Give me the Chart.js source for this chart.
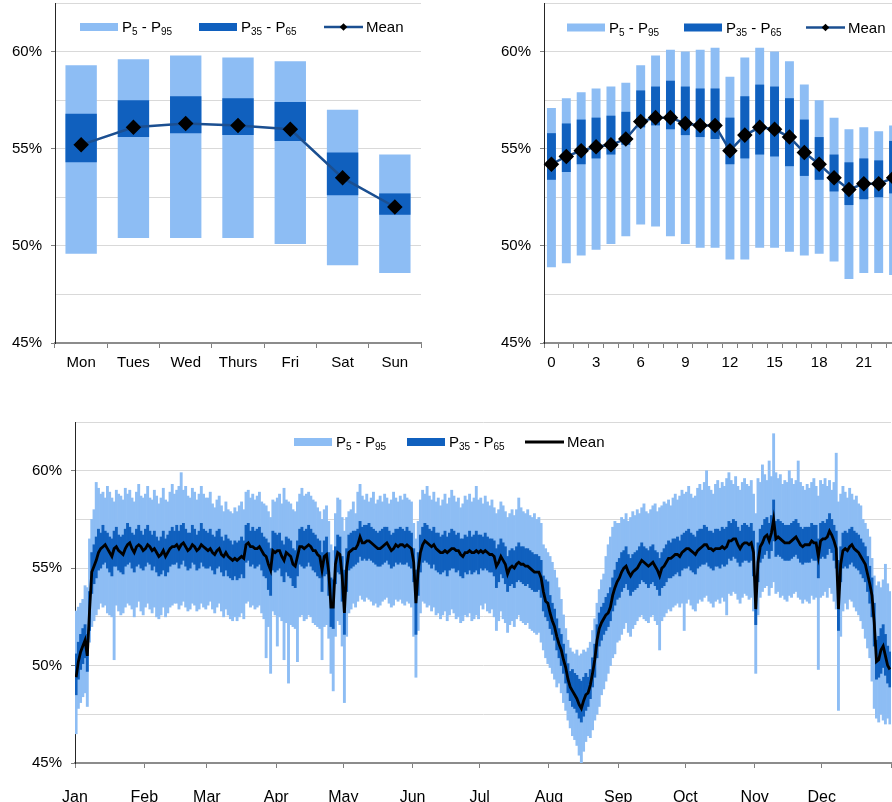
<!DOCTYPE html>
<html>
<head>
<meta charset="UTF-8">
<title>Percentile bands</title>
<script src="https://cdn.jsdelivr.net/npm/chart.js@4"></script>
<style>
  html, body { margin: 0; padding: 0; background: #fff; overflow: hidden; width: 892px; height: 802px; }
  canvas { position: absolute; }
  #weekChart { left: 0; top: -10px; }
  #hourChart { left: 460px; top: -10px; }
  #yearChart { left: 0; top: 400px; }
</style>
</head>
<body>
<canvas id="weekChart" width="440" height="390"></canvas>
<canvas id="hourChart" width="460" height="390"></canvas>
<canvas id="yearChart" width="910" height="420"></canvas>

<script>
// ---- day of week ----
const weekdays = ['Mon', 'Tues', 'Wed', 'Thurs', 'Fri', 'Sat', 'Sun'];
const dayP5   = [49.6, 50.4, 50.4, 50.4, 50.1, 49.0, 48.6];
const dayP35  = [54.3, 55.6, 55.8, 55.7, 55.4, 52.6, 51.6];
const dayP65  = [56.8, 57.5, 57.7, 57.6, 57.4, 54.8, 52.7];
const dayP95  = [59.3, 59.6, 59.8, 59.7, 59.5, 57.0, 54.7];
const dayMean = [55.2, 56.1, 56.3, 56.2, 56.0, 53.5, 52.0];

// ---- hour of day ----
const hours = ['0','1','2','3','4','5','6','7','8','9','10','11','12','13','14','15','16','17','18','19','20','21','22','23'];
const hourP5   = [48.9, 49.1, 49.5, 49.8, 50.1, 50.5, 51.1, 51.0, 50.5, 50.1, 49.9, 49.9, 49.3, 49.3, 49.9, 49.9, 49.7, 49.5, 49.6, 49.2, 48.3, 48.6, 48.6, 48.5];
const hourP35  = [53.4, 53.8, 54.2, 54.5, 54.7, 55.2, 56.1, 56.2, 56.0, 55.7, 55.6, 55.5, 54.2, 54.5, 54.7, 54.6, 54.1, 53.6, 53.4, 52.8, 52.1, 52.4, 52.5, 52.7];
const hourP65  = [55.8, 56.3, 56.5, 56.6, 56.7, 56.9, 58.0, 58.2, 58.5, 58.2, 58.1, 58.1, 56.6, 57.7, 58.3, 58.2, 57.6, 56.5, 55.6, 54.7, 54.3, 54.5, 54.4, 55.4];
const hourP95  = [57.1, 57.6, 57.9, 58.1, 58.2, 58.4, 59.3, 59.8, 60.1, 60.0, 60.1, 60.2, 58.7, 59.7, 60.2, 60.0, 59.5, 58.3, 57.5, 56.6, 56.0, 56.1, 55.9, 56.2];
const hourMean = [54.2, 54.6, 54.9, 55.1, 55.2, 55.5, 56.4, 56.6, 56.6, 56.3, 56.2, 56.2, 54.9, 55.7, 56.1, 56.0, 55.6, 54.8, 54.2, 53.5, 52.9, 53.2, 53.2, 53.5];

// ---- day of year (one value per day) ----
const monthLabels = ['Jan','Feb','Mar','Apr','May','Jun','Jul','Aug','Sep','Oct','Nov','Dec'];
const monthStarts = [0, 31, 59, 90, 120, 151, 181, 212, 243, 273, 304, 334, 365];

const yearMean = [
  49.4, 50.2, 50.7, 51.0, 51.3, 50.5, 52.8, 54.8, 55.1, 55.4, 55.8, 56.0, 56.1, 56.2, 56.0, 55.8, 55.6, 56.0, 56.1, 55.9, 55.8, 55.7, 56.0, 56.2, 56.3, 56.0, 55.8, 56.1, 56.2, 56.1, 55.9,
  56.0, 56.2, 56.1, 55.9, 56.0, 55.8, 55.6, 55.7, 55.9, 55.6, 55.8, 56.0, 56.1, 56.1, 56.2, 56.0, 56.2, 56.3, 56.1, 55.9, 56.0, 56.2, 56.1, 55.9, 56.0, 56.2, 56.1, 56.0,
  55.9, 56.0, 55.8, 55.7, 55.9, 56.0, 55.7, 55.6, 55.8, 55.6, 55.5, 55.4, 55.5, 55.4, 55.5, 55.6, 55.5, 56.2, 56.3, 56.1, 56.1, 56.0, 56.0, 56.1, 55.9, 55.7, 55.6, 55.2, 54.9, 55.9, 55.8,
  55.9, 55.9, 55.6, 55.4, 55.8, 55.7, 55.6, 55.2, 55.1, 55.6, 56.1, 56.1, 56.0, 56.1, 56.2, 56.1, 55.9, 55.9, 55.7, 55.6, 54.9, 55.6, 55.7, 54.8, 53.0, 53.0, 55.2, 55.8, 55.7, 54.6,
  52.7, 55.0, 55.8, 55.9, 56.0, 56.0, 56.2, 56.6, 56.3, 56.3, 56.4, 56.4, 56.3, 56.2, 56.1, 56.0, 56.0, 56.1, 56.2, 56.3, 56.1, 55.9, 56.0, 56.2, 56.1, 56.2, 56.2, 56.1, 56.2, 56.1, 56.0,
  55.3, 53.2, 54.9, 55.8, 56.2, 56.4, 56.3, 56.2, 56.1, 56.2, 56.0, 55.9, 55.8, 55.8, 55.9, 55.8, 55.9, 56.0, 56.0, 55.9, 55.9, 55.7, 55.6, 55.8, 55.8, 55.9, 55.8, 55.8, 55.9, 55.8,
  55.9, 55.8, 55.9, 55.8, 55.7, 55.7, 55.6, 55.1, 55.3, 55.6, 55.4, 55.2, 54.7, 55.0, 55.1, 55.0, 55.2, 55.3, 55.2, 55.2, 55.1, 55.1, 55.0, 54.9, 54.8, 54.8, 54.8, 54.5, 53.8, 53.3, 53.2,
  52.7, 52.3, 52.0, 51.5, 51.1, 50.8, 50.3, 49.9, 49.3, 48.9, 48.7, 48.5, 48.3, 48.0, 47.8, 48.2, 48.5, 48.6, 49.0, 49.6, 50.3, 51.3, 51.9, 52.2, 52.4, 52.6, 52.7, 53.0, 53.6, 54.0, 54.3,
  54.5, 54.8, 55.0, 55.1, 54.8, 54.6, 54.8, 54.9, 55.0, 55.2, 55.4, 55.3, 55.2, 55.1, 55.2, 55.3, 55.1, 54.9, 54.6, 55.0, 55.1, 55.3, 55.5, 55.5, 55.6, 55.7, 55.7, 55.6, 55.8, 55.9,
  56.0, 56.0, 55.9, 55.8, 55.7, 55.9, 56.0, 56.1, 56.2, 56.2, 56.0, 56.0, 55.9, 56.0, 56.0, 56.0, 56.1, 56.0, 56.1, 56.4, 56.4, 56.5, 56.5, 56.2, 56.0, 56.2, 56.3, 56.3, 56.2, 56.3, 55.8,
  52.9, 55.3, 56.1, 56.3, 56.6, 56.7, 56.4, 56.8, 57.5, 56.5, 56.6, 56.5, 56.4, 56.3, 56.3, 56.3, 56.4, 56.5, 56.6, 56.4, 56.2, 56.1, 56.2, 56.2, 56.2, 56.4, 56.3, 56.3, 55.6, 56.4,
  56.5, 56.5, 56.6, 56.9, 56.7, 56.4, 56.0, 52.9, 55.2, 55.9, 56.0, 55.9, 56.1, 56.2, 56.0, 55.9, 55.8, 55.6, 55.4, 55.2, 54.7, 54.2, 53.6, 52.2, 50.2, 50.3, 50.8, 51.0, 50.5, 50.0, 49.8
];

const yearP95 = [
  52.8, 53.0, 53.2, 53.4, 54.1, 54.0, 56.5, 57.5, 58.0, 59.4, 59.1, 58.8, 58.9, 58.6, 59.2, 58.9, 58.6, 58.4, 59.0, 58.8, 58.7, 58.5, 59.1, 58.8, 59.0, 58.6, 58.4, 58.9, 59.3, 58.7, 58.6,
  58.8, 59.2, 58.6, 58.5, 59.0, 58.7, 58.3, 58.6, 59.1, 58.5, 58.4, 58.9, 59.3, 58.8, 59.0, 59.2, 59.9, 59.0, 59.2, 58.7, 58.6, 59.1, 58.9, 58.5, 58.8, 59.2, 58.8, 58.6,
  58.6, 58.9, 58.3, 58.1, 58.5, 58.7, 58.2, 57.9, 58.4, 58.0, 57.9, 57.8, 58.1, 57.9, 58.2, 58.4, 58.0, 58.9, 59.0, 58.6, 58.8, 58.5, 58.7, 58.9, 58.4, 58.3, 58.2, 57.9, 57.6, 58.5, 58.4,
  58.6, 58.8, 58.3, 59.1, 58.5, 58.4, 58.3, 58.0, 57.9, 58.4, 58.8, 59.1, 58.7, 58.8, 58.9, 58.7, 58.5, 58.4, 58.1, 57.9, 57.5, 58.0, 58.2, 57.4, 56.2, 55.9, 57.8, 58.6, 58.5, 57.6,
  56.9, 57.6, 57.9, 58.0, 58.4, 57.8, 58.9, 59.3, 58.7, 58.5, 58.8, 58.4, 58.6, 58.9, 58.3, 58.5, 58.7, 58.4, 58.8, 58.6, 58.3, 58.5, 58.9, 58.6, 58.4, 58.7, 58.5, 58.8, 58.6, 58.5, 58.4,
  57.3, 56.5, 57.4, 58.5, 59.0, 58.8, 59.2, 58.7, 58.5, 58.9, 58.4, 58.6, 58.2, 58.5, 58.8, 58.3, 58.6, 59.0, 58.7, 58.4, 58.6, 58.1, 58.3, 58.7, 58.5, 58.8, 58.4, 58.6, 59.2, 58.5,
  58.6, 58.3, 58.7, 58.4, 58.2, 58.5, 58.1, 57.8, 58.0, 58.4, 58.2, 57.9, 57.6, 57.8, 58.0, 57.7, 58.0, 58.6, 58.1, 57.9, 57.8, 58.0, 57.7, 57.6, 57.8, 57.5, 57.6, 57.3, 56.2, 56.0, 55.8,
  55.6, 55.3, 54.9, 54.5, 54.0, 53.4, 52.6, 51.9, 51.3, 50.9, 50.7, 50.6, 50.8, 50.5, 50.6, 50.8, 50.7, 50.9, 51.2, 51.8, 52.4, 53.2, 53.9, 54.4, 54.7, 55.6, 56.2, 56.6, 57.1, 57.4, 57.3,
  57.3, 57.6, 57.5, 57.8, 57.4, 57.6, 57.9, 57.7, 58.0, 57.8, 58.1, 58.3, 57.9, 57.8, 58.0, 58.2, 58.3, 57.9, 58.1, 58.2, 58.4, 58.3, 58.5, 58.2, 58.6, 58.8, 58.5, 58.7, 59.0, 58.8,
  58.9, 59.2, 58.8, 58.6, 58.7, 59.1, 59.3, 59.0, 59.4, 60.0, 59.2, 59.0, 58.8, 59.3, 59.5, 59.1, 59.4, 59.2, 59.6, 59.9, 59.5, 59.3, 59.7, 59.2, 59.0, 59.4, 59.6, 59.3, 59.2, 59.5, 58.8,
  57.8, 59.6, 59.4, 60.3, 59.8, 59.5, 60.5, 59.7, 61.9, 59.9, 59.6, 59.8, 59.3, 59.5, 59.4, 60.0, 59.6, 59.3, 59.5, 60.5, 59.4, 59.2, 59.0, 59.3, 59.1, 59.4, 59.6, 59.2, 58.7, 59.5,
  59.3, 59.6, 59.2, 59.5, 59.0, 59.4, 60.9, 58.4, 58.8, 59.2, 58.9, 58.6, 59.1, 58.8, 58.5, 58.7, 58.3, 58.2, 57.5, 57.3, 57.0, 56.6, 55.5, 54.6, 54.1, 54.3, 54.0, 54.4, 55.2, 54.2, 53.8
];

const yearP65 = [
  50.6, 51.2, 51.6, 51.9, 52.1, 51.6, 53.8, 55.8, 56.2, 56.6, 57.0, 56.8, 57.2, 56.9, 56.8, 56.6, 56.5, 56.9, 57.1, 56.7, 56.6, 56.7, 57.0, 57.3, 57.1, 56.8, 56.7, 57.0, 57.2, 56.9, 56.7,
  57.0, 57.2, 56.9, 56.7, 56.9, 56.6, 56.4, 56.6, 56.9, 56.5, 56.7, 56.9, 57.1, 56.9, 57.2, 56.9, 57.2, 57.3, 57.0, 56.8, 56.8, 57.2, 57.0, 56.7, 56.9, 57.3, 57.0, 56.9,
  56.8, 57.0, 56.7, 56.6, 56.9, 57.0, 56.6, 56.4, 56.7, 56.5, 56.4, 56.2, 56.4, 56.3, 56.4, 56.6, 56.4, 57.2, 57.3, 56.9, 57.1, 56.9, 57.0, 57.1, 56.8, 56.6, 56.5, 56.3, 56.0, 56.9, 56.8,
  56.7, 56.8, 56.4, 56.2, 56.6, 56.5, 56.4, 56.0, 55.9, 56.4, 57.0, 57.1, 56.9, 57.0, 57.2, 57.0, 56.8, 56.7, 56.5, 56.4, 55.8, 56.4, 56.6, 55.8, 54.5, 54.4, 56.1, 56.7, 56.6, 55.6,
  54.9, 56.0, 56.7, 56.8, 56.9, 56.9, 57.0, 57.4, 57.1, 57.2, 57.2, 57.3, 57.1, 57.0, 56.9, 56.8, 56.9, 57.0, 57.1, 57.1, 56.9, 56.7, 56.8, 57.0, 57.0, 57.1, 57.0, 56.9, 57.1, 56.9, 56.8,
  56.0, 54.9, 55.8, 56.7, 57.1, 57.3, 57.2, 57.0, 56.9, 57.1, 56.8, 56.8, 56.6, 56.7, 56.9, 56.6, 56.8, 57.0, 56.9, 56.7, 56.8, 56.5, 56.5, 56.7, 56.6, 56.9, 56.6, 56.7, 56.9, 56.7,
  56.7, 56.6, 56.8, 56.6, 56.5, 56.5, 56.4, 56.0, 56.2, 56.5, 56.3, 56.1, 55.6, 55.9, 56.0, 55.9, 56.1, 56.3, 56.1, 56.1, 56.0, 56.0, 55.9, 55.8, 55.7, 55.7, 55.6, 55.4, 54.6, 54.4, 54.3,
  53.6, 53.2, 52.9, 52.4, 51.9, 51.6, 51.1, 50.6, 50.1, 49.7, 49.8, 49.6, 49.5, 49.3, 49.2, 49.4, 49.6, 49.4, 49.8, 50.4, 51.1, 52.1, 52.7, 53.0, 53.2, 53.5, 53.7, 54.0, 54.5, 54.9, 55.3,
  55.5, 55.8, 55.9, 56.1, 55.7, 55.5, 55.7, 55.8, 55.9, 56.1, 56.3, 56.1, 56.0, 55.9, 56.1, 56.2, 55.9, 55.8, 55.5, 55.8, 56.0, 56.2, 56.4, 56.3, 56.5, 56.5, 56.6, 56.4, 56.7, 56.8,
  56.9, 57.0, 56.8, 56.7, 56.6, 56.9, 57.0, 57.0, 57.2, 57.1, 56.9, 56.9, 56.8, 57.0, 57.0, 56.9, 57.1, 57.0, 57.1, 57.4, 57.3, 57.5, 57.4, 57.1, 56.9, 57.2, 57.3, 57.2, 57.1, 57.3, 56.9,
  54.6, 56.3, 57.0, 57.2, 57.5, 57.6, 57.3, 57.7, 58.5, 57.4, 57.5, 57.4, 57.3, 57.2, 57.2, 57.2, 57.3, 57.4, 57.5, 57.3, 57.1, 57.0, 57.1, 57.1, 57.1, 57.3, 57.2, 57.2, 56.5, 57.3,
  57.4, 57.3, 57.5, 57.8, 57.5, 57.2, 56.9, 55.4, 56.1, 56.8, 56.9, 56.8, 57.0, 57.1, 56.9, 56.8, 56.7, 56.5, 56.3, 56.1, 55.6, 55.1, 54.5, 53.2, 51.3, 51.5, 51.9, 52.1, 51.6, 51.0, 50.7
];

const yearP35 = [
  48.5, 49.3, 49.8, 50.1, 50.4, 49.7, 51.8, 53.7, 54.2, 54.5, 54.9, 55.0, 55.2, 55.3, 55.0, 54.8, 54.6, 55.1, 55.1, 54.9, 54.8, 54.7, 55.1, 55.2, 55.3, 55.0, 54.8, 55.1, 55.2, 55.0, 54.9,
  55.1, 55.3, 55.2, 54.9, 55.1, 54.8, 54.6, 54.7, 54.9, 54.6, 54.8, 55.1, 55.2, 55.2, 55.3, 55.0, 55.2, 55.4, 55.1, 54.9, 55.0, 55.3, 55.2, 54.9, 55.0, 55.3, 55.1, 55.0,
  55.0, 55.1, 54.9, 54.7, 55.0, 55.1, 54.8, 54.6, 54.9, 54.6, 54.5, 54.4, 54.6, 54.4, 54.5, 54.7, 54.5, 55.3, 55.4, 55.1, 55.2, 55.0, 55.1, 55.2, 54.9, 54.6, 54.5, 53.9, 53.6, 54.9, 54.8,
  54.9, 55.0, 54.6, 54.3, 54.8, 54.6, 54.5, 54.1, 54.0, 54.6, 55.2, 55.1, 55.0, 55.1, 55.3, 55.1, 54.9, 54.8, 54.6, 54.5, 53.8, 54.6, 54.7, 53.6, 52.0, 51.9, 54.2, 54.8, 54.7, 53.3,
  51.6, 53.8, 54.9, 55.0, 55.1, 55.2, 55.3, 55.6, 55.4, 55.5, 55.4, 55.5, 55.4, 55.3, 55.2, 55.1, 55.1, 55.2, 55.3, 55.4, 55.2, 55.0, 55.1, 55.3, 55.2, 55.3, 55.2, 55.2, 55.3, 55.1, 55.0,
  54.3, 51.6, 53.6, 54.8, 55.3, 55.4, 55.3, 55.2, 55.0, 55.2, 54.9, 54.8, 54.7, 54.8, 54.9, 54.6, 54.9, 55.0, 55.0, 54.8, 54.9, 54.6, 54.5, 54.8, 54.7, 54.9, 54.7, 54.8, 54.9, 54.7,
  55.0, 54.9, 55.0, 54.9, 54.8, 54.8, 54.6, 54.0, 54.3, 54.7, 54.5, 54.2, 53.8, 54.1, 54.2, 54.0, 54.3, 54.4, 54.3, 54.2, 54.1, 54.2, 54.0, 53.9, 53.8, 53.8, 53.9, 53.5, 52.8, 52.5, 52.3,
  51.9, 51.6, 51.3, 50.8, 50.4, 50.0, 49.6, 49.1, 48.6, 48.2, 47.9, 47.8, 47.6, 47.3, 47.1, 47.4, 47.7, 47.9, 48.3, 48.9, 49.4, 50.4, 51.0, 51.3, 51.6, 51.8, 52.0, 52.3, 52.8, 53.1, 53.4,
  53.5, 53.8, 54.0, 54.2, 53.9, 53.6, 53.8, 53.9, 54.0, 54.2, 54.4, 54.3, 54.2, 54.0, 54.2, 54.3, 54.1, 53.9, 53.6, 54.0, 54.1, 54.3, 54.5, 54.5, 54.6, 54.7, 54.8, 54.6, 54.9, 55.0,
  55.0, 55.1, 54.9, 54.8, 54.7, 55.0, 55.1, 55.2, 55.2, 55.3, 55.1, 55.0, 54.9, 55.1, 55.1, 55.0, 55.2, 55.1, 55.2, 55.5, 55.4, 55.6, 55.5, 55.3, 55.1, 55.3, 55.4, 55.4, 55.3, 55.4, 54.6,
  52.1, 54.3, 55.3, 55.5, 55.7, 55.9, 55.5, 55.9, 56.4, 55.6, 55.7, 55.6, 55.5, 55.4, 55.4, 55.4, 55.5, 55.6, 55.7, 55.5, 55.3, 55.2, 55.3, 55.3, 55.3, 55.5, 55.4, 55.4, 54.5, 55.5,
  55.6, 55.5, 55.7, 56.0, 55.8, 55.4, 55.0, 51.8, 54.3, 55.0, 55.1, 55.0, 55.2, 55.3, 55.1, 55.0, 54.9, 54.7, 54.5, 54.3, 53.8, 53.2, 52.5, 51.0, 49.3, 49.4, 49.6, 49.9, 49.5, 49.1, 48.9
];

const yearP5 = [
  46.5, 47.8, 48.1, 48.4, 48.6, 47.9, 51.2, 52.0, 52.3, 52.6, 52.9, 53.2, 53.0, 53.1, 52.7, 52.6, 52.5, 50.3, 53.1, 52.8, 52.6, 52.7, 53.0, 53.2, 53.1, 52.9, 52.5, 53.0, 53.3, 52.8, 52.6,
  53.0, 53.2, 52.9, 52.7, 53.0, 52.5, 52.4, 52.6, 53.0, 52.5, 52.7, 53.0, 53.1, 53.2, 53.2, 52.9, 53.1, 53.3, 53.0, 52.8, 52.9, 53.2, 53.1, 52.8, 52.9, 53.2, 53.0, 52.9,
  53.1, 53.3, 52.9, 52.7, 53.0, 53.2, 52.8, 52.5, 52.9, 52.6, 52.4, 52.3, 52.5, 52.3, 52.5, 52.7, 52.4, 53.2, 53.3, 53.0, 53.1, 52.9, 53.0, 53.1, 52.7, 52.4, 50.4, 52.0, 49.6, 52.8, 52.6,
  51.0, 52.5, 52.3, 50.3, 52.2, 49.1, 52.1, 52.0, 51.9, 50.2, 52.5, 52.6, 52.3, 52.4, 52.6, 52.5, 52.2, 52.1, 52.0, 51.9, 50.3, 52.0, 52.1, 51.4, 49.6, 48.7, 51.5, 52.3, 52.1, 51.0,
  48.1, 51.5, 52.7, 52.9, 53.2, 53.0, 53.3, 53.6, 53.4, 53.3, 53.5, 53.4, 53.3, 53.1, 53.2, 53.0, 53.1, 53.3, 53.4, 53.5, 53.2, 53.0, 53.1, 53.4, 53.3, 53.4, 53.2, 53.1, 53.3, 53.2, 53.0,
  51.5, 49.4, 51.8, 52.7, 53.3, 53.2, 53.0, 53.1, 52.8, 53.0, 52.6, 52.7, 52.4, 52.6, 52.8, 52.3, 52.6, 52.9, 52.7, 52.4, 52.5, 52.2, 52.3, 52.6, 52.5, 52.7, 52.3, 52.4, 52.6, 52.4,
  53.1, 52.9, 53.2, 52.8, 52.7, 52.9, 52.5, 51.8, 52.3, 52.8, 52.4, 52.2, 51.7, 52.1, 52.3, 52.0, 52.4, 52.6, 52.3, 52.2, 52.1, 52.2, 51.9, 51.8, 51.7, 51.6, 51.7, 51.2, 50.8, 50.4, 50.1,
  49.9, 49.6, 49.3, 48.9, 49.1, 48.6, 48.1, 47.7, 47.2, 46.8, 46.4, 46.2, 45.9, 45.4, 45.0, 45.6, 46.1, 46.4, 46.3, 46.7, 47.2, 47.5, 47.9, 48.5, 48.8, 49.2, 49.6, 50.0, 50.4, 50.6, 51.2,
  51.3, 51.6, 51.9, 52.2, 51.7, 51.5, 51.9, 52.1, 52.3, 52.5, 52.6, 52.4, 52.3, 52.2, 52.5, 52.6, 52.3, 52.1, 50.8, 52.3, 52.5, 52.7, 52.9, 52.8, 53.0, 53.1, 53.2, 53.0, 53.2, 51.8,
  53.2, 53.4, 53.1, 52.9, 52.8, 53.2, 53.4, 53.3, 53.5, 53.6, 53.3, 53.2, 53.0, 53.3, 53.4, 53.2, 53.5, 53.3, 52.6, 53.7, 53.6, 53.8, 53.7, 53.4, 53.2, 53.5, 53.7, 53.6, 53.4, 53.5, 52.8,
  49.6, 52.6, 53.5, 53.8, 54.0, 54.1, 53.6, 54.0, 54.3, 53.7, 53.8, 53.5, 53.6, 53.4, 53.3, 53.6, 53.5, 53.7, 53.8, 53.5, 53.4, 53.2, 53.4, 53.3, 53.2, 53.6, 53.4, 53.5, 49.8, 53.5,
  53.6, 53.8, 53.5, 54.0, 53.7, 53.3, 52.9, 47.7, 51.5, 52.8, 53.2, 52.9, 53.4, 53.3, 53.0, 52.8, 52.6, 52.3, 51.9, 51.4, 50.9, 50.4, 49.2, 47.8, 47.3, 47.1, 47.5, 47.2, 47.0, 47.3, 47.0
];

const LIGHT = '#8dbdf4';
const DARK = '#1060be';
const FONT = '"Liberation Sans", Arial, Helvetica, sans-serif';

Chart.defaults.font.family = FONT;
Chart.defaults.font.size = 15;
Chart.defaults.color = '#000';
Chart.defaults.animation = false;
Chart.defaults.responsive = false;
Chart.defaults.plugins.legend.display = false;
Chart.defaults.plugins.tooltip.enabled = false;

// legend sits inside the plot; "_digits" in a label are drawn as subscripts
const insideLegend = {
  id: 'insideLegend',
  afterDraw(chart, args, opts) {
    const ctx = chart.ctx;
    const y = opts.y;
    ctx.save();
    opts.items.forEach(it => {
      const ds = chart.data.datasets[it.dataset];
      if (ds.type === 'line') {
        ctx.strokeStyle = ds.borderColor;
        ctx.lineWidth = ds.borderWidth;
        ctx.beginPath();
        ctx.moveTo(it.x, y);
        ctx.lineTo(it.x + 39, y);
        ctx.stroke();
        if (ds.pointRadius > 0) {
          const cx = it.x + 19.5, r = 3.8;
          ctx.fillStyle = '#000';
          ctx.beginPath();
          ctx.moveTo(cx, y - r); ctx.lineTo(cx + r, y); ctx.lineTo(cx, y + r); ctx.lineTo(cx - r, y);
          ctx.closePath();
          ctx.fill();
        }
      } else {
        ctx.fillStyle = ds.backgroundColor;
        ctx.fillRect(it.x, y - 4, 38, 8);
      }
      let tx = it.x + 42;
      ctx.fillStyle = '#000';
      ctx.textBaseline = 'alphabetic';
      ds.label.split(/(_\d+)/).forEach(part => {
        if (!part) return;
        const sub = part[0] === '_';
        const txt = sub ? part.slice(1) : part;
        ctx.font = (sub ? '10px ' : '15px ') + FONT;
        ctx.fillText(txt, tx, y + (sub ? 8 : 5.3));
        tx += ctx.measureText(txt).width;
      });
    });
    ctx.restore();
  }
};

function yAxis(width) {
  return {
    min: 45,
    max: 62.5,
    ticks: { stepSize: 2.5, padding: 9, callback: v => (v % 5 === 0 ? v + '%' : '') },
    grid: {
      color: '#d9d9d9',
      tickLength: 4,
      tickColor: c => (c.tick && c.tick.value % 5 === 0 ? '#7f7f7f' : 'rgba(0,0,0,0)')
    },
    border: { color: '#262626', width: 1 },
    afterFit(s) { s.width = width; s.paddingTop = 0; s.paddingBottom = 0; }
  };
}

function categoryAxis(cb) {
  return {
    ticks: { padding: 6, autoSkip: false, maxRotation: 0, callback: cb },
    grid: { drawOnChartArea: false, tickLength: 5, tickColor: '#7f7f7f' },
    border: { color: '#8c8c8c', width: 2 },
    afterFit(s) { s.height = 37; s.paddingLeft = 0; s.paddingRight = 0; }
  };
}

function bandDatasets(p5, p35, p65, p95, mean) {
  return [
    {
      type: 'line', label: 'Mean', data: mean, order: 0,
      borderColor: '#1b4f91', borderWidth: 2.5, tension: 0,
      pointStyle: 'rectRot', pointRadius: 6, pointBackgroundColor: '#000', pointBorderColor: '#000'
    },
    {
      type: 'bar', label: 'P_35 - P_65', order: 1, backgroundColor: DARK,
      data: p35.map((v, i) => [v, p65[i]]),
      grouped: false, barPercentage: 0.6, categoryPercentage: 1
    },
    {
      type: 'bar', label: 'P_5 - P_95', order: 2, backgroundColor: LIGHT,
      data: p5.map((v, i) => [v, p95[i]]),
      grouped: false, barPercentage: 0.6, categoryPercentage: 1
    }
  ];
}

new Chart(document.getElementById('weekChart'), {
  type: 'bar',
  data: { labels: weekdays, datasets: bandDatasets(dayP5, dayP35, dayP65, dayP95, dayMean) },
  options: {
    layout: { padding: { top: 13, right: 19, left: 0, bottom: 0 } },
    scales: {
      x: categoryAxis(function (v) { return this.getLabelForValue(v); }),
      y: yAxis(55)
    },
    plugins: {
      insideLegend: { y: 37, items: [{ dataset: 2, x: 80 }, { dataset: 1, x: 199 }, { dataset: 0, x: 324 }] }
    }
  },
  plugins: [insideLegend]
});

new Chart(document.getElementById('hourChart'), {
  type: 'bar',
  data: { labels: hours, datasets: bandDatasets(hourP5, hourP35, hourP65, hourP95, hourMean) },
  options: {
    layout: { padding: { top: 13, right: 19, left: 0, bottom: 0 } },
    scales: {
      x: categoryAxis(function (v, i) { return i % 3 === 0 ? this.getLabelForValue(v) : ''; }),
      y: yAxis(84)
    },
    plugins: {
      insideLegend: { y: 37.5, items: [{ dataset: 2, x: 107 }, { dataset: 1, x: 224 }, { dataset: 0, x: 346 }] }
    }
  },
  plugins: [insideLegend]
});

new Chart(document.getElementById('yearChart'), {
  type: 'bar',
  data: {
    datasets: [
      {
        type: 'line', label: 'Mean', order: 0,
        data: yearMean.map((v, i) => ({ x: i + 0.5, y: v })),
        borderColor: '#000', borderWidth: 2.8, pointRadius: 0, tension: 0
      },
      {
        type: 'bar', label: 'P_35 - P_65', order: 1, backgroundColor: DARK,
        data: yearP35.map((v, i) => ({ x: i + 0.5, y: [v, yearP65[i]] })),
        grouped: false, barPercentage: 1, categoryPercentage: 1
      },
      {
        type: 'bar', label: 'P_5 - P_95', order: 2, backgroundColor: LIGHT,
        data: yearP5.map((v, i) => ({ x: i + 0.5, y: [v, yearP95[i]] })),
        grouped: false, barPercentage: 1, categoryPercentage: 1
      }
    ]
  },
  options: {
    layout: { padding: { top: 22, right: 19, left: 0, bottom: 0 } },
    scales: {
      x: {
        type: 'linear', min: 0, max: 365, offset: false,
        afterBuildTicks(s) { s.ticks = monthStarts.map(v => ({ value: v })); },
        ticks: {
          autoSkip: false, maxRotation: 0, padding: 20, font: { size: 16 },
          callback: v => monthLabels[monthStarts.indexOf(v)] || ''
        },
        grid: { drawOnChartArea: false, offset: false, tickLength: 5, tickColor: '#7f7f7f' },
        border: { color: '#8c8c8c', width: 2 },
        afterFit(s) { s.height = 57; s.paddingLeft = 0; s.paddingRight = 0; }
      },
      y: yAxis(75)
    },
    plugins: {
      insideLegend: { y: 42, items: [{ dataset: 2, x: 294 }, { dataset: 1, x: 407 }, { dataset: 0, x: 525 }] }
    }
  },
  plugins: [insideLegend]
});
</script>
</body>
</html>
